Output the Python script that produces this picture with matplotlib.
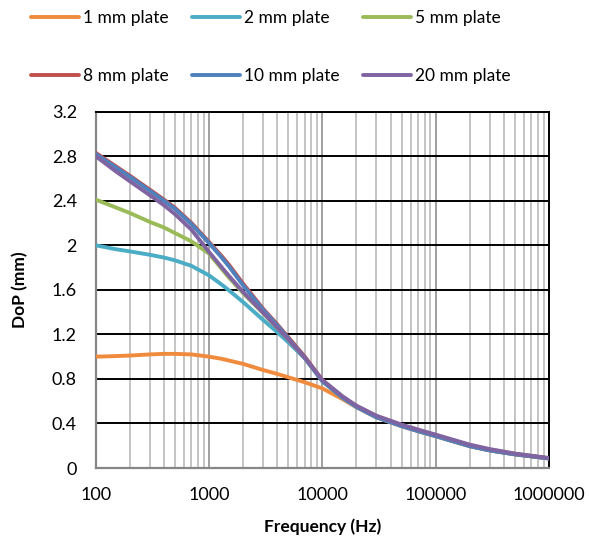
import matplotlib.pyplot as plt
from matplotlib.ticker import FixedLocator, FuncFormatter, NullFormatter

plt.rcParams['font.family'] = ['Lato', 'DejaVu Sans']

# frequency points (Hz)
freq = [100, 150, 200, 300, 400, 500, 700, 1000, 1300, 1500, 2000, 3000, 4000,
        5000, 7000, 10000, 15000, 20000, 30000, 50000, 70000, 100000,
        200000, 300000, 500000, 1000000]

# depth of penetration (mm) for each plate thickness
dop_1mm = [1.00, 1.005, 1.01, 1.02, 1.025, 1.025, 1.02, 1.00, 0.98, 0.965, 0.935, 0.88, 0.845,
           0.815, 0.77, 0.715, 0.62, 0.545, 0.455, 0.375, 0.33, 0.285,
           0.195, 0.158, 0.122, 0.085]
dop_2mm = [2.00, 1.965, 1.945, 1.915, 1.89, 1.865, 1.815, 1.73, 1.645, 1.595, 1.49, 1.33, 1.22,
           1.13, 0.985, 0.78, 0.632, 0.548, 0.458, 0.378, 0.332, 0.287,
           0.197, 0.159, 0.123, 0.086]
dop_5mm = [2.41, 2.34, 2.29, 2.21, 2.16, 2.11, 2.035, 1.925, 1.785, 1.71, 1.57, 1.39, 1.26,
           1.155, 0.99, 0.785, 0.64, 0.555, 0.465, 0.385, 0.34, 0.295,
           0.205, 0.165, 0.128, 0.088]
dop_8mm = [2.83, 2.71, 2.625, 2.50, 2.41, 2.337, 2.20, 2.03, 1.90, 1.825, 1.655, 1.43, 1.29,
           1.175, 1.0, 0.79, 0.64, 0.555, 0.46, 0.38, 0.335, 0.29,
           0.20, 0.16, 0.125, 0.087]
dop_10mm = [2.82, 2.70, 2.615, 2.49, 2.40, 2.327, 2.19, 2.02, 1.887, 1.81, 1.64, 1.42, 1.28,
            1.165, 0.99, 0.78, 0.635, 0.55, 0.455, 0.377, 0.332, 0.287,
            0.197, 0.158, 0.123, 0.086]
dop_20mm = [2.80, 2.665, 2.575, 2.45, 2.36, 2.28, 2.14, 1.94, 1.80, 1.725, 1.58, 1.395, 1.26,
            1.155, 0.99, 0.79, 0.645, 0.56, 0.47, 0.39, 0.345, 0.30,
            0.21, 0.17, 0.13, 0.09]

labels = ['1 mm plate', '2 mm plate', '5 mm plate',
          '8 mm plate', '10 mm plate', '20 mm plate']
series = [dop_1mm, dop_2mm, dop_5mm, dop_8mm, dop_10mm, dop_20mm]
colors = ['#F08A3C', '#4BACC6', '#9BBB59', '#C0504D', '#4F81BD', '#8064A2']

fig = plt.figure(figsize=(5.89, 5.42), dpi=100)
ax = fig.add_axes([0.1625, 0.1365, 0.7695, 0.6575])

lines = []
for y, lab, c in zip(series, labels, colors):
    ln, = ax.plot(freq, y, color=c, lw=2.8, label=lab, solid_capstyle='round',
                  solid_joinstyle='round', zorder=3)
    lines.append(ln)

ax.set_xscale('log')
ax.set_xlim(100, 1000000)
ax.set_ylim(0, 3.2)

ax.xaxis.set_major_locator(FixedLocator([100, 1000, 10000, 100000, 1000000]))
ax.xaxis.set_major_formatter(FuncFormatter(lambda v, p: '%d' % v))
minors = [m * 10 ** k for k in range(2, 6) for m in range(2, 10)]
ax.xaxis.set_minor_locator(FixedLocator(minors))
ax.xaxis.set_minor_formatter(NullFormatter())
ax.set_yticks([0, 0.4, 0.8, 1.2, 1.6, 2, 2.4, 2.8, 3.2])
ax.set_yticklabels(['0', '0.4', '0.8', '1.2', '1.6', '2', '2.4', '2.8', '3.2'])

# gridlines: grey verticals, black horizontals
ax.grid(True, which='major', axis='x', color='#A0A0A0', lw=1.4)
ax.grid(True, which='minor', axis='x', color='#C4C4C4', lw=1.4)
ax.grid(True, which='major', axis='y', color='black', lw=1.4)
ax.set_axisbelow(True)

ax.tick_params(which='both', length=0, labelsize=13)
ax.tick_params(axis='x', pad=14)
ax.tick_params(axis='y', pad=13.5)

for side in ['left', 'bottom']:
    ax.spines[side].set_color('#868686')
    ax.spines[side].set_linewidth(1.6)
ax.spines['right'].set_color('black')
ax.spines['right'].set_linewidth(1.4)
ax.spines['top'].set_color('black')
ax.spines['top'].set_linewidth(1.4)

ax.set_xlabel('Frequency (Hz)', fontsize=12.5, fontweight='bold', labelpad=11)
ax.set_ylabel('DoP (mm)', fontsize=12.5, fontweight='bold', labelpad=17)

# legend filled row by row: 3 entries per row
order = [0, 3, 1, 4, 2, 5]
fig.legend([lines[i] for i in order], [labels[i] for i in order],
           loc='upper left', bbox_to_anchor=(0.035, 1.0), ncol=3, frameon=False,
           fontsize=12.5, handlelength=2.76, handletextpad=0.23,
           columnspacing=1.35, labelspacing=2.4, borderaxespad=0.2)

fig.savefig('out.png', dpi=100)
